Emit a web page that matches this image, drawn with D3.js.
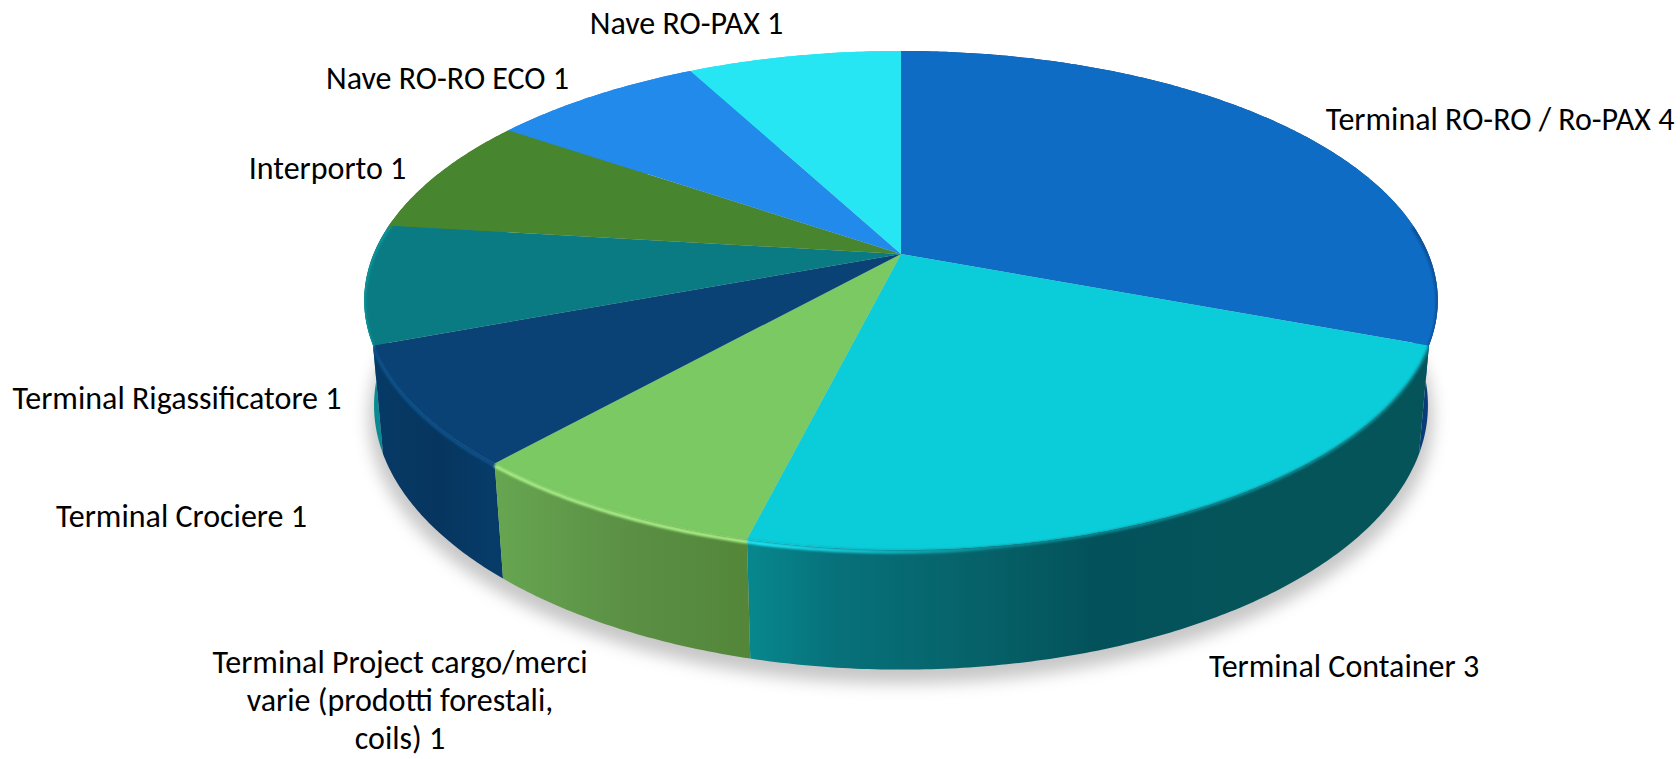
<!DOCTYPE html>
<html>
<head>
<meta charset="utf-8">
<script src="https://cdn.jsdelivr.net/npm/d3@7"></script>
<style>
  html, body { margin: 0; padding: 0; background: #fff; }
  svg { display: block; }
  text { font-family: Carlito, Calibri, Lato, sans-serif; fill: #000; }
</style>
</head>
<body>
<script>
const categories = [
  'Terminal RO-RO / Ro-PAX', 'Terminal Container', 'Terminal Project cargo/merci varie (prodotti forestali, coils)',
  'Terminal Crociere', 'Terminal Rigassificatore', 'Interporto', 'Nave RO-RO ECO', 'Nave RO-PAX'
];
const values = [4, 3, 1, 1, 1, 1, 1, 1];

// Colours per slice
const topColors = ['#0f6cc4', '#0bcdd9', '#7ac963', '#0a4276', '#0a7b82', '#47862f', '#228aeb', '#26e6f3'];
const rimColors = ['#0a4f94', '#1ce8f8', '#a8f086', '#0a5088', '#0a9298', '#47862f', '#228aeb', '#26e6f3'];
const wallColors = [
  ['#0a3d78', '#0a3d78'],
  ['#07888e', '#07717a', '#065f66', '#03515a', '#05545a', '#05545a'],
  ['#67a651', '#5b9045', '#538639'],
  ['#063a66', '#06365f', '#073c6a'],
  ['#088a90', '#088a90'],
  ['#47862f', '#47862f'],
  ['#228aeb', '#228aeb'],
  ['#26e6f3', '#26e6f3']
];

const width = 1680;
const height = 759;

// Perspective of the disc: u/v on the unit circle, z = 0 top face, z = 1 bottom face
const cx = 901, cy = 254, rx = 527.4, ry = 240.8, persp = 0.186, dropZ = 0.018, wallH = 105;

const project = (angle, z = 0, r = 1) => {
  const u = Math.sin(angle) * r, v = -Math.cos(angle) * r;
  const s = 1 / (1 - persp * v + dropZ * z);
  return [cx + rx * u * s, cy + (ry * v + wallH * z) * s];
};

const arcPoints = (a0, a1, z = 0) => {
  const n = Math.max(2, Math.ceil((a1 - a0) / 0.01));
  return d3.range(n + 1).map(i => project(a0 + (a1 - a0) * i / n, z));
};

const line = d3.line();

const slices = d3.pie().sort(null).value(d => d)(values)
  .map((d, i) => ({ ...d, i, mid: (d.startAngle + d.endAngle) / 2 }));

const svg = d3.select('body').append('svg')
  .attr('width', width)
  .attr('height', height)
  .attr('viewBox', [0, 0, width, height]);

const defs = svg.append('defs');
defs.append('filter').attr('id', 'shadowBlur')
  .attr('x', '-10%').attr('y', '-10%').attr('width', '120%').attr('height', '120%')
  .append('feGaussianBlur').attr('stdDeviation', 8);
defs.append('filter').attr('id', 'rimBlur')
  .attr('x', '-10%').attr('y', '-50%').attr('width', '120%').attr('height', '200%')
  .append('feGaussianBlur').attr('stdDeviation', 1.1);

// Soft shadow under the disc
svg.append('path')
  .attr('d', line(arcPoints(0, 2 * Math.PI, 1.12).map(p => [cx + (p[0] - cx) * 1.012, p[1]])) + 'Z')
  .attr('fill', '#000')
  .attr('fill-opacity', 0.22)
  .attr('filter', 'url(#shadowBlur)');

// The rim must not spill past the outline of the disc
const outline = defs.append('clipPath').attr('id', 'discOutline');
outline.append('path').attr('d', line(arcPoints(0, 2 * Math.PI, 0)) + 'Z');

// Walls, back to front
const walls = svg.append('g');
slices.slice()
  .sort((a, b) => Math.abs(b.mid - Math.PI) - Math.abs(a.mid - Math.PI))
  .forEach(d => {
    const top = arcPoints(d.startAngle, d.endAngle, 0);
    const bottom = arcPoints(d.startAngle, d.endAngle, 1).reverse();
    const pts = top.concat(bottom);
    const [x0, x1] = d3.extent(pts, p => p[0]);
    const grad = defs.append('linearGradient')
      .attr('id', `wall${d.i}`)
      .attr('gradientUnits', 'userSpaceOnUse')
      .attr('x1', x0).attr('x2', x1).attr('y1', 0).attr('y2', 0);
    const cols = wallColors[d.i];
    // the long container wall gets its darkest tone a little past the middle
    const offs = d.i === 1 ? [0, 0.13, 0.37, 0.52, 0.7, 1] : d3.range(cols.length).map(k => k / (cols.length - 1));
    cols.forEach((c, k) => grad.append('stop').attr('offset', offs[k]).attr('stop-color', c));
    walls.append('path')
      .attr('d', line(pts) + 'Z')
      .attr('fill', `url(#wall${d.i})`);
    outline.append('path').attr('d', line(pts) + 'Z');
  });

// Top faces
svg.append('g').selectAll('path')
  .data(slices)
  .join('path')
  .attr('d', d => line([project(0, 0, 0), ...arcPoints(d.startAngle, d.endAngle, 0)]) + 'Z')
  .attr('fill', d => topColors[d.i]);

// Bevelled rim on the front half of the disc
const rimFade = defs.append('linearGradient')
  .attr('id', 'rimFade')
  .attr('gradientUnits', 'userSpaceOnUse')
  .attr('x1', 760).attr('x2', 1010).attr('y1', 0).attr('y2', 0);
rimFade.append('stop').attr('offset', 0).attr('stop-color', rimColors[1]);
rimFade.append('stop').attr('offset', 1).attr('stop-color', rimColors[1]).attr('stop-opacity', 0);

const rims = svg.append('g')
  .attr('clip-path', 'url(#discOutline)')
  .append('g')
  .attr('fill', 'none')
  .attr('filter', 'url(#rimBlur)');
slices.forEach(d => {
  const a0 = Math.max(d.startAngle, 1.45), a1 = Math.min(d.endAngle, 4.85);
  if (a1 <= a0) return;
  // blend between top colour and wall colour
  rims.append('path')
    .attr('d', line(arcPoints(a0, a1, 0.01)))
    .attr('stroke', d3.interpolateRgb(topColors[d.i], wallColors[d.i][wallColors[d.i].length - 1])(0.5))
    .attr('stroke-width', 2.5);
  rims.append('path')
    .attr('d', line(arcPoints(a0, a1, 0.02)))
    .attr('stroke', d.i === 1 ? 'url(#rimFade)' : rimColors[d.i])
    .attr('stroke-width', 3.5);
});

// Labels: value follows the category name, as in the original data labels
const labelLines = [
  [`${categories[0]} ${values[0]}`],
  [`${categories[1]} ${values[1]}`],
  ['Terminal Project cargo/merci', 'varie (prodotti forestali,', `coils) ${values[2]}`],
  [`${categories[3]} ${values[3]}`],
  [`${categories[4]} ${values[4]}`],
  [`${categories[5]} ${values[5]}`],
  [`${categories[6]} ${values[6]}`],
  [`${categories[7]} ${values[7]}`]
];
const labelX = [1500, 1344, 400, 181.5, 177, 327.5, 447.5, 686.5];
const labelY = [130, 677, 673, 527, 409, 179, 89, 34];

const labels = svg.append('g')
  .attr('font-size', 32)
  .attr('text-anchor', 'middle');

labelLines.forEach((rows, i) => {
  rows.forEach((row, k) => {
    labels.append('text')
      .attr('x', labelX[i])
      .attr('y', labelY[i] + k * 38)
      .text(row);
  });
});
</script>
</body>
</html>
